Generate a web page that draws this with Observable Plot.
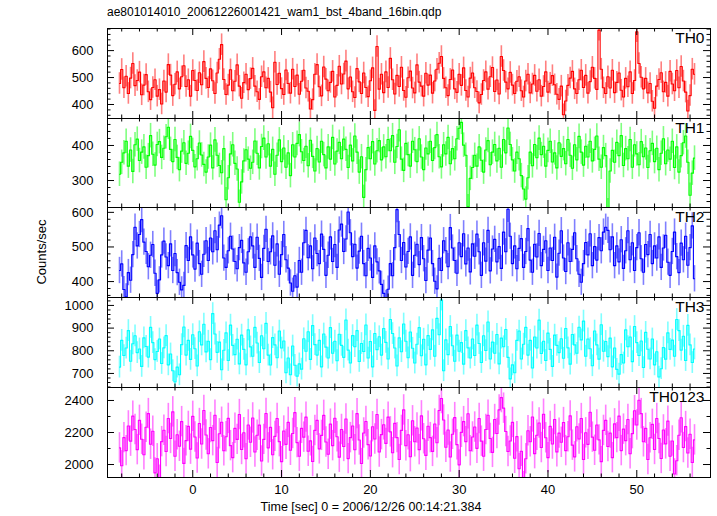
<!DOCTYPE html>
<html><head><meta charset="utf-8">
<script src="https://cdn.jsdelivr.net/npm/d3@7"></script>
<script src="https://cdn.jsdelivr.net/npm/@observablehq/plot@0.6"></script>
<style>
body{margin:0;background:#fff;}
#chart{position:relative;width:717px;height:516px;font-family:"Liberation Sans",Arial,Helvetica,sans-serif;color:#000;overflow:hidden;}
#chart svg{position:absolute;left:0;overflow:visible;}
.title{position:absolute;left:107px;top:6px;font-size:12px;line-height:12px;white-space:nowrap;}
.ylab{position:absolute;left:41px;top:252px;transform:translate(-50%,-50%) rotate(-90deg);font-size:13px;white-space:nowrap;}
.xlab{position:absolute;left:371px;top:501px;transform:translateX(-50%);font-size:12.5px;line-height:13px;white-space:nowrap;}
</style></head>
<body><div id="chart"></div>
<script>
const titleText = "ae801014010_20061226001421_wam1_bst_4band_16bin.qdp";
const yLabelText = "Counts/sec";
const xLabelText = "Time [sec] 0 = 2006/12/26 00:14:21.384";

const binStart = -8.25, binWidth = 0.25;
const panelNames = ["TH0", "TH1", "TH2", "TH3", "TH0123"];
const panelErrors = [40, 35, 38, 48, 95];

const xMajorTicks = [0, 10, 20, 30, 40, 50];
const xMinorTicks = [-8, -6, -4, -2, 2, 4, 6, 8, 12, 14, 16, 18, 22, 24, 26, 28, 32, 34, 36, 38, 42, 44, 46, 48, 52, 54, 56];

const yMajorTicks = [
  [400, 500, 600],
  [300, 400],
  [400, 500, 600],
  [700, 800, 900, 1000],
  [2000, 2200, 2400]
];
const yMinorTicks = [
  [360, 380, 420, 440, 460, 480, 520, 540, 560, 580, 620, 640, 660, 680],
  [240, 260, 280, 320, 340, 360, 380, 420, 440, 460],
  [360, 380, 420, 440, 460, 480, 520, 540, 560, 580],
  [640, 660, 680, 720, 740, 760, 780, 820, 840, 860, 880, 920, 940, 960, 980, 1020],
  [2100, 2300]
];

const th0 = [
478,530,462,505,441,498,552,470,489,520,436,472,511,447,418,463,492,431,455,402,
487,446,548,509,433,475,521,458,503,544,467,492,431,526,489,452,518,473,559,497,
463,532,488,441,517,568,622,493,437,472,529,451,486,547,468,423,481,512,455,496,
534,468,447,419,503,521,462,497,446,388,557,474,516,459,437,528,478,442,531,467,
509,438,486,527,461,449,383,418,512,548,466,432,539,494,451,482,523,428,471,542,
476,513,561,458,502,447,426,533,484,441,517,463,429,488,536,378,615,457,512,444,
521,463,571,492,439,508,467,538,452,427,499,524,461,443,547,483,468,431,516,472,
509,442,487,531,553,578,497,462,433,493,528,458,445,512,471,536,452,428,498,517,
462,448,406,437,489,521,457,503,537,448,491,439,578,526,483,458,519,472,441,486,
503,451,428,487,512,443,476,508,449,492,431,467,521,446,479,507,473,438,419,468,
362,413,471,498,523,458,441,492,527,463,508,442,485,538,497,456,676,531,462,441,
503,461,527,444,482,517,453,428,497,466,521,441,489,670,552,501,458,497,443,478,
412,386,468,493,518,447,482,431,523,476,451,526,462,541,487,446,376,433,531,512
];
const th1 = [
318,352,379,412,341,387,326,402,418,357,381,396,338,371,428,375,344,403,411,366,
392,425,452,389,354,417,366,331,384,408,349,378,426,386,339,362,407,373,346,324,
367,401,336,416,372,343,322,391,245,308,376,402,349,333,238,296,356,388,361,335,
352,413,378,336,397,421,367,405,341,389,318,372,416,354,393,338,379,314,402,367,
406,431,382,357,398,342,415,369,327,391,353,412,374,336,396,361,423,347,384,409,
362,418,389,337,401,356,427,381,324,368,252,331,394,362,411,347,385,414,359,396,
368,417,385,428,352,397,445,361,329,406,374,341,412,388,354,419,367,331,393,376,
412,357,394,431,368,339,402,376,423,348,391,362,419,449,466,401,372,225,306,337,
372,341,396,358,324,387,414,345,381,403,356,392,338,417,379,450,403,359,327,381,
362,314,276,247,308,381,342,403,365,421,374,398,341,386,412,353,379,336,408,369,
391,348,417,372,335,402,359,426,381,344,398,367,412,356,389,427,361,338,394,371,
214,327,386,352,409,371,428,343,391,362,417,338,402,376,345,411,368,393,337,385,
406,354,392,331,378,419,348,387,361,412,337,396,324,371,408,427,352,258,321,364
];
const th2 = [
432,451,377,356,426,404,478,557,503,536,579,514,487,443,476,507,424,366,405,477,
517,471,446,509,432,481,426,398,376,389,504,461,529,477,436,511,452,421,479,518,
461,526,486,547,492,563,590,468,441,489,531,494,458,437,498,519,454,427,486,529,
503,441,528,467,412,496,551,458,486,532,447,509,421,478,536,463,439,396,372,417,
384,461,427,512,548,469,503,437,526,481,452,537,493,418,476,529,458,507,441,549,
566,487,523,601,541,472,508,439,488,531,452,417,496,468,412,503,457,431,392,366,
337,378,452,417,498,608,536,461,513,442,487,529,418,476,508,449,527,466,403,491,
526,452,401,379,467,432,518,489,443,556,497,461,424,512,472,538,451,497,428,509,
473,537,486,418,512,459,548,431,494,522,457,501,438,543,486,609,531,452,503,437,
496,524,441,487,553,462,427,508,471,539,446,493,518,432,497,461,528,413,482,547,
468,429,512,458,493,541,466,421,398,452,513,477,538,446,501,462,527,489,543,557,
548,492,529,446,503,457,521,438,489,547,463,512,432,498,541,466,427,507,478,536,
452,503,468,529,441,497,534,456,418,487,543,472,426,511,463,531,447,498,561,408
];
const th3 = [
728,846,779,812,889,754,831,866,792,808,731,857,819,772,903,836,761,797,852,744,
813,867,738,786,712,663,728,694,827,905,781,846,762,871,809,733,884,826,917,795,
842,761,964,874,793,838,716,802,879,757,913,824,783,851,742,869,806,738,892,817,
776,903,834,748,866,809,921,781,737,858,826,769,887,812,843,703,768,694,821,736,
688,742,719,853,798,884,762,911,827,781,846,729,874,816,768,902,789,842,756,873,
824,771,936,803,746,867,818,889,753,832,797,914,768,841,729,876,805,862,781,898,
837,764,938,876,812,733,857,796,918,842,769,883,811,746,829,902,778,851,738,867,
806,892,776,943,871,1024,712,848,783,907,822,754,869,798,836,741,889,813,768,852,
779,913,832,748,866,801,927,764,838,789,872,742,856,818,894,771,676,738,703,846,
887,764,829,903,781,846,724,861,812,935,788,842,757,878,806,731,869,824,792,853,
767,898,813,741,872,826,789,904,848,931,776,852,809,734,887,826,763,915,798,841,
774,856,729,812,718,697,783,746,892,818,861,752,907,836,779,843,726,881,807,764,
852,738,796,684,721,814,763,879,806,847,776,938,889,803,864,757,912,826,748,808
];
const th0123 = [
2104,1992,2168,2087,2241,2146,2302,2219,2093,2276,2158,2061,2233,2318,2127,2208,1948,2036,1902,2143,
2214,2081,2287,2163,2329,2052,2186,2114,2268,2007,2149,2238,2096,2301,2172,2041,2256,2128,2337,2184,
2067,2231,2149,2308,2013,2192,2264,2086,2173,2288,2118,2043,2226,2157,2312,2094,2198,2036,2247,2139,
2291,2078,2183,2246,2022,2157,2319,2104,2232,2061,2176,2287,2143,2018,2209,2126,2263,2089,2194,2324,
2137,2052,2226,2171,2296,2083,2148,2019,2213,2276,2098,2182,2307,2141,2064,2252,2118,2289,2173,2046,
2219,2113,2284,2037,2168,2241,2092,2318,2153,2006,2197,2269,2124,2053,2236,2159,2312,2078,2187,2248,
2132,2296,2204,2074,2257,2168,2031,2213,2341,2117,2186,2049,2273,2142,2228,2093,2304,2161,2057,2239,
2168,2082,2253,2136,2337,2412,2278,2108,2216,2047,2189,2293,2124,1998,2201,2268,2143,2317,2086,2172,
2234,2101,2287,2146,2052,2219,2308,2163,2076,2281,2194,2341,2418,2352,2206,2081,2147,2263,2039,2174,
1974,2083,1862,2036,2211,2142,2297,2068,2183,2259,2106,2314,2167,2043,2238,2128,2281,2079,2196,2139,
2262,2087,2173,2304,2121,2048,2236,2159,2287,2031,2198,2126,2326,2171,2089,2247,2154,2018,2213,2276,
2113,2196,2043,2254,2168,2302,2087,2221,2149,2281,2067,2193,2336,2247,2401,2318,2142,2226,2031,2167,
2251,2094,2287,2163,2038,2216,2129,2271,2052,2147,1941,2024,2183,2292,2106,2237,2072,2189,2013,2154
];
const seriesValues = [th0, th1, th2, th3, th0123];

// layout / style configuration
const panelColors = ["#ff0000", "#00ff00", "#0000ff", "#00ffff", "#ff00ff"];
const panelYDomains = [[348, 682], [223, 477], [354, 614], [638, 1035], [1919, 2481]];
const panelTops = [28, 118, 207, 297, 387];
const panelBottoms = [118, 207, 297, 387, 477];
const xDomain = [-9.6, 58.3];
const W = 717, mL = 107, mR = 7;
const innerW = W - mL - mR;
const majorLen = 7, minorLen = 3.5;
const fontFamily = "'Liberation Sans', Arial, Helvetica, sans-serif";

const chart = document.getElementById("chart");
const t = document.createElement("div"); t.className = "title"; t.textContent = titleText; chart.appendChild(t);
const yl = document.createElement("div"); yl.className = "ylab"; yl.textContent = yLabelText; chart.appendChild(yl);

panelNames.forEach((name, i) => {
  const values = seriesValues[i];
  const err = panelErrors[i];
  const color = panelColors[i];
  const data = values.map((v, j) => ({t: binStart + j * binWidth, v}));
  const innerH = panelBottoms[i] - panelTops[i];
  const isLast = i === panelNames.length - 1;
  const mB = isLast ? 30 : 0;
  const marks = [
    Plot.ruleX(data, {x: "t", y1: d => d.v - err, y2: d => d.v + err, stroke: color, strokeOpacity: 0.5, strokeWidth: 1.6, clip: true}),
    Plot.line(data, {x: "t", y: "v", curve: "step", stroke: color, strokeWidth: 1.1, clip: true}),
    Plot.frame({stroke: "black", strokeWidth: 1}),
    Plot.tickX(xMajorTicks, {x: d => d, insetBottom: innerH - majorLen, stroke: "black"}),
    Plot.tickX(xMajorTicks, {x: d => d, insetTop: innerH - majorLen, stroke: "black"}),
    Plot.tickX(xMinorTicks, {x: d => d, insetBottom: innerH - minorLen, stroke: "black"}),
    Plot.tickX(xMinorTicks, {x: d => d, insetTop: innerH - minorLen, stroke: "black"}),
    Plot.tickY(yMajorTicks[i], {y: d => d, insetRight: innerW - majorLen, stroke: "black"}),
    Plot.tickY(yMajorTicks[i], {y: d => d, insetLeft: innerW - majorLen, stroke: "black"}),
    Plot.tickY(yMinorTicks[i], {y: d => d, insetRight: innerW - minorLen, stroke: "black"}),
    Plot.tickY(yMinorTicks[i], {y: d => d, insetLeft: innerW - minorLen, stroke: "black"}),
    Plot.axisY(yMajorTicks[i], {tickSize: 0, tickPadding: 14, fontSize: 13, label: null, tickFormat: d => String(d)}),
    Plot.text([name], {frameAnchor: "top-right", dx: -6, dy: 3, lineAnchor: "top", fontSize: 15.5, fill: "black"})
  ];
  if (isLast) {
    marks.push(Plot.axisX(xMajorTicks, {tickSize: 0, tickPadding: 7, fontSize: 13, label: null, tickFormat: d => String(d)}));
  }
  const svg = Plot.plot({
    width: W,
    height: innerH + mB,
    marginLeft: mL, marginRight: mR, marginTop: 0, marginBottom: mB,
    x: {domain: xDomain, axis: null},
    y: {domain: panelYDomains[i], axis: null},
    style: {fontFamily, fontSize: "13px", background: "none", overflow: "visible", color: "black"},
    marks
  });
  svg.style.top = panelTops[i] + "px";
  chart.appendChild(svg);
});

const xl = document.createElement("div"); xl.className = "xlab"; xl.textContent = xLabelText; chart.appendChild(xl);
</script>
</body></html>
